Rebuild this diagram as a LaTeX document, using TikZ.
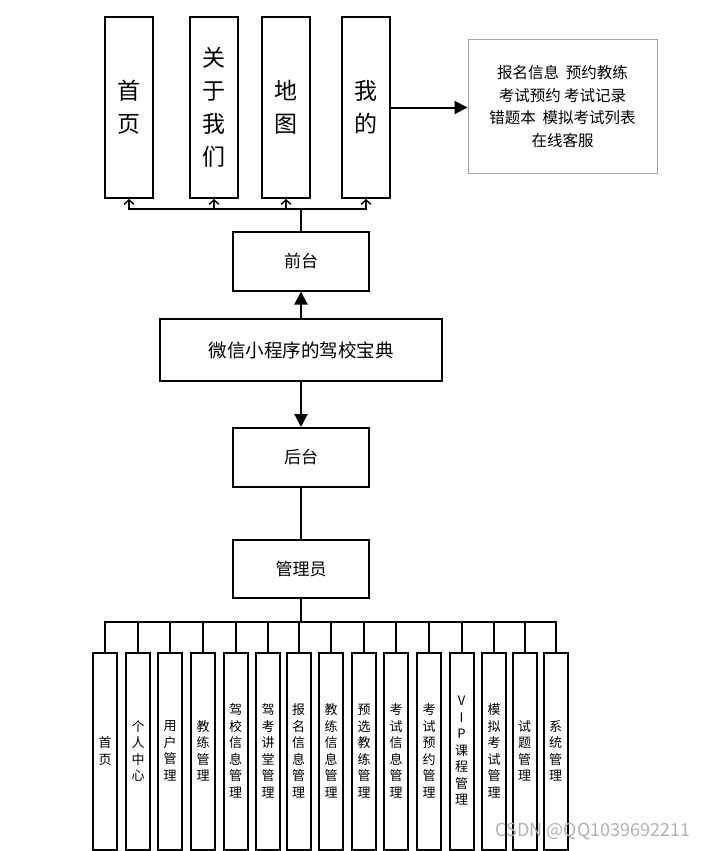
\documentclass[tikz,border=0pt]{standalone}
\usepackage{fontspec}
\setmainfont{Noto Sans CJK SC}
\usetikzlibrary{arrows.meta}
\begin{document}
\begin{tikzpicture}[x=1pt,y=-1pt]
\tikzstyle{mythick}=[line width=2pt];
\tikzstyle{tb}=[draw=black,mythick,fill=white,inner sep=0pt,minimum width=48pt,minimum height=181pt,align=center,font=\fontsize{23}{33}\selectfont]
\tikzstyle{mb}=[draw=black,mythick,fill=white,inner sep=0pt,minimum width=136pt,minimum height=59pt,font=\fontsize{17}{20}\selectfont]
\tikzstyle{sb}=[draw=black,mythick,fill=white,inner sep=0pt,minimum width=24pt,minimum height=197pt,align=center,font=\fontsize{13}{16.5}\selectfont]
\tikzstyle{ed}=[draw=black,mythick]
\tikzstyle{op}=[-{Straight Barb[length=4.5pt,width=10pt,line width=1.4pt]}]
\tikzstyle{fl}=[-{Triangle[length=13pt,width=13pt]}]
\useasboundingbox (0,0) rectangle (707,851);
% top row
\node [tb] (home) at (129,107.5) {首\\页};
\node [tb] (about) at (214,107.5) {关\\于\\我\\们};
\node [tb] (map) at (286,107.5) {地\\图};
\node [tb] (mine) at (366,107.5) {我\\的};
\node [draw=black!35,line width=1pt,fill=white,inner sep=0pt,minimum width=189pt,minimum height=134pt,align=center,font=\fontsize{15.5}{22.5}\selectfont] (info) at (562.5,106.5) {报名信息~ 预约教练\\考试预约 考试记录\\错题本~ 模拟考试列表\\在线客服};
% middle
\node [mb] (front) at (301,261) {前台};
\node [mb,minimum width=282pt,minimum height=62pt,font=\fontsize{18.5}{22}\selectfont] (app) at (301,350) {微信小程序的驾校宝典};
\node [mb] (back) at (301,457.5) {后台};
\node [mb,minimum height=58pt] (admin) at (301,569) {管理员};
% bottom row
\node [sb] (m1) at (105,751) {首\\页};
\node [sb] (m2) at (138,751) {个\\人\\中\\心};
\node [sb] (m3) at (170,751) {用\\户\\管\\理};
\node [sb] (m4) at (203,751) {教\\练\\管\\理};
\node [sb] (m5) at (235.5,751) {驾\\校\\信\\息\\管\\理};
\node [sb] (m6) at (268,751) {驾\\考\\讲\\堂\\管\\理};
\node [sb] (m7) at (298.5,751) {报\\名\\信\\息\\管\\理};
\node [sb] (m8) at (331,751) {教\\练\\信\\息\\管\\理};
\node [sb] (m9) at (364,751) {预\\选\\教\\练\\管\\理};
\node [sb] (m10) at (396,751) {考\\试\\信\\息\\管\\理};
\node [sb] (m11) at (429,751) {考\\试\\预\\约\\管\\理};
\node [sb] (m12) at (461.5,751) {V\\I\\P\\课\\程\\管\\理};
\node [sb] (m13) at (494,751) {模\\拟\\考\\试\\管\\理};
\node [sb] (m14) at (524.5,751) {试\\题\\管\\理};
\node [sb] (m15) at (555.5,751) {系\\统\\管\\理};
\coordinate (topbus) at (301,209);
\coordinate (botbus) at (301,622);
% connectors
\draw [ed] (front) -- (topbus);
\draw [ed,op] (topbus) -| (home);
\draw [ed,op] (topbus) -| (about);
\draw [ed,op] (topbus) -| (map);
\draw [ed,op] (topbus) -| (mine);
\draw [ed,fl] (mine.east) -- (info.west |- mine.east);
\draw [ed,fl] (app) -- (front);
\draw [ed,fl] (app) -- (back);
\draw [ed] (back) -- (admin);
\draw [ed] (admin) -- (botbus);
\draw [ed] (botbus) -| (m1);
\draw [ed] (botbus) -| (m2);
\draw [ed] (botbus) -| (m3);
\draw [ed] (botbus) -| (m4);
\draw [ed] (botbus) -| (m5);
\draw [ed] (botbus) -| (m6);
\draw [ed] (botbus) -| (m7);
\draw [ed] (botbus) -| (m8);
\draw [ed] (botbus) -| (m9);
\draw [ed] (botbus) -| (m10);
\draw [ed] (botbus) -| (m11);
\draw [ed] (botbus) -| (m12);
\draw [ed] (botbus) -| (m13);
\draw [ed] (botbus) -| (m14);
\draw [ed] (botbus) -| (m15);
\node [text=black!30,font=\fontsize{18}{20}\selectfont] (mark) at (593,831) {CSDN @QQ1039692211};
\end{tikzpicture}
\end{document}
